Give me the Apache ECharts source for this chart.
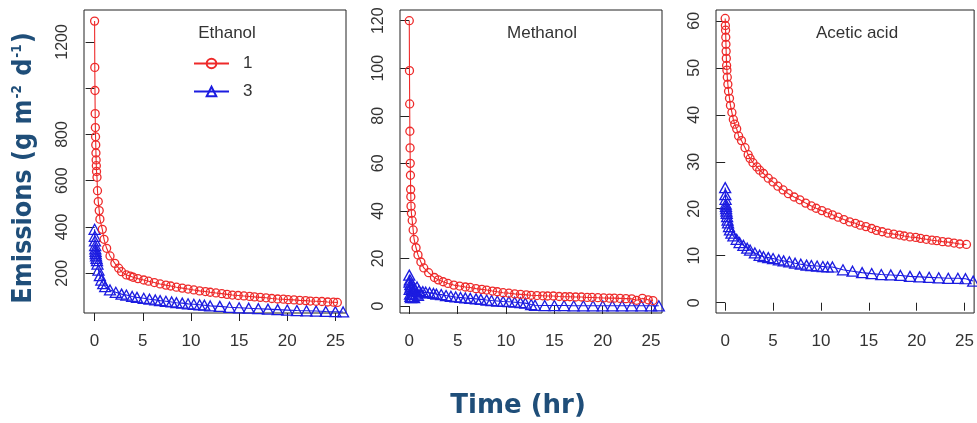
<!DOCTYPE html>
<html>
<head>
<meta charset="utf-8">
<script src="https://cdn.jsdelivr.net/npm/echarts@6/dist/echarts.min.js"></script>
<style>
html,body{margin:0;padding:0;background:#fff;}
#chart{width:977px;height:423px;}
</style>
</head>
<body>
<div id="chart"></div>
<script>
// ---------- DATA ----------
const panelTitles = ['Ethanol', 'Methanol', 'Acetic acid'];
const seriesNames = ['1', '3'];
const xTickValues = [0, 5, 10, 15, 20, 25];
const yTickValuesEthanol = [200, 400, 600, 800, 1000, 1200];
const yLabelValuesEthanol = [200, 400, 600, 800, 1200];
const yTickValuesMethanol = [0, 20, 40, 60, 80, 100, 120];
const yTickValuesAcetic = [0, 10, 20, 30, 40, 50, 60];

// Ethanol, treatment 1 (red circles)
const ethanolT1 = [0,0.02,0.04,0.06,0.08,0.1,0.12,0.14,0.16,0.18,0.2,0.25,0.3,0.38,0.48,0.55,0.8,0.98,1.25,1.6,2.1,2.5,2.8,3.3,3.7,4.0,4.5,5.1,5.6,6.2,6.8,7.4,7.9,8.5,9.1,9.7,10.3,10.9,11.5,12,12.6,13.2,13.75,14.3,14.9,15.5,16.1,16.6,17.2,17.8,18.4,19,19.6,20.1,20.7,21.3,21.9,22.4,23,23.6,24.2,24.8,25.2];
const ethanolV1 = [1290,1090,990,890,830,790,755,720,690,665,640,615,557,510,471,434,390,347,308,275,243,222,207,193,188,183,177,171,166,160,154,149,145,140,136,132,128,124,121,118,115,112,109,106,104,102,100,98,96,94,91,89,88,86,85,83,82,80,79,78,76,75,74];
// Ethanol, treatment 3 (blue triangles)
const ethanolT3 = [0,0.02,0.04,0.06,0.08,0.1,0.12,0.15,0.2,0.25,0.3,0.4,0.55,0.7,0.9,1.1,1.6,2.2,2.8,3.3,3.9,4.4,5.1,5.7,6.3,6.8,7.4,8,8.5,9.1,9.7,10.3,10.9,11.4,12,13,14,15,16,17,18,19,20,21,22,23,24,25,25.8];
const ethanolV3 = [390,360,340,320,305,295,285,275,265,255,240,214,190,171,155,142,128,118,110,106,100,96,92,88,85,82,79,76,73,71,68,66,64,62,59,57,53,51,49,47,45,43,41,39,38,37,35,34,33];

// Methanol, treatment 1
const methanolT1 = [0,0.02,0.04,0.06,0.08,0.1,0.12,0.14,0.16,0.18,0.22,0.3,0.4,0.5,0.7,0.9,1.2,1.5,2.0,2.6,3.0,3.5,4.0,4.6,5.2,5.8,6.3,6.9,7.5,8.0,8.6,9.1,9.7,10.3,10.9,11.5,12.1,12.6,13.2,13.8,14.3,14.9,15.5,16.1,16.6,17.2,17.8,18.4,18.9,19.5,20.1,20.7,21.2,21.8,22.4,23,23.5,24.1,24.7,25.2];
const methanolV1 = [120,99,85,73.5,66.5,60,55,49,46,42,39,36,32,28,24.5,21.5,18.5,16,14,12,11,10.2,9.5,8.8,8.4,8.0,7.8,7.3,7.0,6.7,6.3,6.0,5.6,5.4,5.1,4.9,4.7,4.5,4.4,4.3,4.2,4.2,4.0,3.9,3.9,3.8,3.8,3.6,3.6,3.5,3.4,3.3,3.3,3.2,3.1,3.0,2.4,3.2,2.6,2.3];
// Methanol, treatment 3
const methanolT3 = [0,0.02,0.04,0.06,0.08,0.1,0.12,0.15,0.18,0.22,0.26,0.3,0.35,0.4,0.5,0.6,0.7,0.8,0.9,1.0,1.2,1.4,1.7,2.1,2.5,2.8,3.3,3.8,4.3,4.8,5.3,5.8,6.3,6.9,7.4,8.0,8.5,9.1,9.7,10.3,10.9,11.5,12,12.6,13,14,15,16,17,18,19,20,21,22,23,24,25,25.8];
const methanolV3 = [13,10,7,11,5,9,4,8,3.5,7,5,9,4,6.5,3.5,7,5,8,4.5,6.5,5.5,6,5.8,5.6,5.3,5.0,4.8,4.4,4.1,3.8,3.6,3.4,3.2,3.0,2.8,2.5,2.3,2.1,1.9,1.8,1.6,1.4,1.2,0.6,0.3,0.2,0.2,0.2,0.1,0.1,0.1,0.1,0.1,0.1,0.1,0.1,0.1,0.1];

// Acetic acid, treatment 1
const aceticT1 = [0,0.02,0.04,0.06,0.08,0.1,0.12,0.15,0.18,0.22,0.28,0.35,0.45,0.55,0.7,0.85,1.0,1.2,1.4,1.7,2.07,2.4,2.6,2.9,3.3,3.6,4.0,4.5,5.0,5.5,6.05,6.6,7.2,7.8,8.4,9.0,9.5,10.1,10.7,11.2,11.8,12.4,13.0,13.6,14.1,14.7,15.3,15.8,16.4,17.0,17.6,18.2,18.7,19.3,19.9,20.4,21.0,21.6,22.1,22.7,23.3,23.9,24.5,25.2];
const aceticV1 = [60.5,59,58,56.5,55,53.5,52,50.5,49.5,48,46.5,45,43.5,42,40.5,39,38,37,35.5,34.5,33,31.5,30.7,29.8,28.9,28.2,27.5,26.5,25.7,24.8,24,23.2,22.5,21.9,21.2,20.6,20.1,19.6,19.1,18.7,18.2,17.7,17.2,16.9,16.5,16.2,15.8,15.4,15.1,14.8,14.6,14.4,14.2,14.0,13.9,13.7,13.5,13.3,13.2,13.0,12.9,12.7,12.5,12.4];
// Acetic acid, treatment 3
const aceticT3 = [0,0.02,0.04,0.06,0.08,0.1,0.13,0.16,0.2,0.25,0.3,0.4,0.5,0.65,0.86,1.2,1.5,1.9,2.3,2.6,3.1,3.6,4.0,4.5,5.0,5.6,6.1,6.7,7.3,7.9,8.5,9.0,9.6,10.2,10.7,11.2,12.3,13.3,14.3,15.3,16.3,17.3,18.3,19.3,20.3,21.3,22.3,23.3,24.3,25.1,25.9];
const aceticV3 = [24.5,23,22,21,20.5,20,19.5,19,18.3,17.6,17,16.2,15.5,14.8,14.2,13.5,12.8,12.2,11.6,11.2,10.6,10.1,9.8,9.6,9.4,9.1,8.9,8.7,8.4,8.2,8.0,7.9,7.8,7.7,7.6,7.6,7.0,6.7,6.4,6.2,6.0,5.9,5.8,5.6,5.5,5.4,5.3,5.2,5.2,5.1,4.6];

// ---------- CHART ----------
const RED = '#ee2a2a';
const BLUE = '#1c1ce0';
const TXT = '#333';
const FONT = '"Liberation Sans", Arial, sans-serif';

function pairs(t, v) { return t.map((x, i) => [x, v[i]]); }

const grids = [
  {left: 84, top: 10, width: 262, height: 303},
  {left: 400, top: 10, width: 262, height: 303},
  {left: 716, top: 10, width: 260, height: 303}
];
const xRanges = [[-1.1, 26.1], [-0.96, 26.13], [-0.96, 26.0]];
const yRanges = [[28.4, 1338], [-2.94, 124.5], [-2.19, 62.3]];
const yTicks = [yTickValuesEthanol, yTickValuesMethanol, yTickValuesAcetic];
const yLabels = [yLabelValuesEthanol, yTickValuesMethanol, yTickValuesAcetic];
const dataSets = [
  [pairs(ethanolT1, ethanolV1), pairs(ethanolT3, ethanolV3)],
  [pairs(methanolT1, methanolV1), pairs(methanolT3, methanolV3)],
  [pairs(aceticT1, aceticV1), pairs(aceticT3, aceticV3)]
];
const titleX = [227, 542, 857];

const option = {
  animation: false,
  backgroundColor: '#fff',
  grid: grids.map(g => Object.assign({show: true, borderColor: '#222', borderWidth: 1, backgroundColor: 'transparent'}, g)),
  xAxis: grids.map((g, i) => ({
    type: 'value', gridIndex: i, min: xRanges[i][0], max: xRanges[i][1],
    axisLine: {show: false},
    splitLine: {show: false},
    axisTick: {show: true, inside: false, length: 8, customValues: xTickValues, lineStyle: {color: '#222', width: 1}},
    axisLabel: {show: true, customValues: xTickValues, margin: 20, fontSize: 17, color: TXT, fontFamily: FONT, formatter: v => String(v)}
  })),
  yAxis: grids.map((g, i) => ({
    type: 'value', gridIndex: i, min: yRanges[i][0], max: yRanges[i][1],
    axisLine: {show: false},
    splitLine: {show: false},
    axisTick: {show: true, inside: false, length: 9, customValues: yTicks[i], lineStyle: {color: '#222', width: 1}},
    axisLabel: {show: true, customValues: yLabels[i], rotate: 90, margin: 13, fontSize: 16, color: TXT, fontFamily: FONT, formatter: v => String(v)}
  })),
  legend: {
    data: seriesNames,
    orient: 'vertical',
    left: 193, top: 55,
    itemWidth: 35, itemHeight: 12, itemGap: 11,
    padding: 0,
    textStyle: {fontSize: 17, color: TXT, fontFamily: FONT, padding: [0, 0, 0, 9]}
  },
  graphic: panelTitles.map((t, i) => ({
    type: 'text', x: titleX[i], y: 33,
    style: {text: t, fill: TXT, font: '17px ' + FONT, textAlign: 'center', textVerticalAlign: 'middle'}
  })).concat([
    {type: 'text', x: 518, y: 406, style: {text: 'Time (hr)', fill: '#1F4E79', font: 'bold 26px "DejaVu Sans", Verdana, sans-serif', textAlign: 'center', textVerticalAlign: 'middle'}},
    {type: 'text', x: 24, y: 168, rotation: Math.PI / 2, scaleY: 1.12,
      style: {
        text: '{m|Emissions (g m}{s|-2}{m| d}{s|-1}{m|)}',
        textAlign: 'center', textVerticalAlign: 'middle',
        rich: {
          m: {fill: '#1F4E79', font: 'bold 24px "DejaVu Sans", Verdana, sans-serif', verticalAlign: 'bottom'},
          s: {fill: '#1F4E79', font: 'bold 12px "DejaVu Sans", Verdana, sans-serif', verticalAlign: 'top', padding: [0, 1, 10, 1]}
        }
      }}
  ]),
  series: []
};

dataSets.forEach((pair, i) => {
  option.series.push({
    name: seriesNames[0], type: 'line', xAxisIndex: i, yAxisIndex: i,
    data: pair[0], showAllSymbol: true, symbol: 'circle', symbolSize: 8,
    itemStyle: {color: 'rgba(255,255,255,0)', borderColor: RED, borderWidth: 1.3},
    lineStyle: {color: RED, width: 1.1}, z: 3
  });
  option.series.push({
    name: seriesNames[1], type: 'line', xAxisIndex: i, yAxisIndex: i,
    data: pair[1], showAllSymbol: true, symbol: 'triangle', symbolSize: [11, 10],
    itemStyle: {color: 'rgba(255,255,255,0)', borderColor: BLUE, borderWidth: 1.3},
    lineStyle: {color: BLUE, width: 1.1}, z: 2
  });
});

const chart = echarts.init(document.getElementById('chart'), null, {renderer: 'canvas'});
chart.setOption(option);
</script>
</body>
</html>
